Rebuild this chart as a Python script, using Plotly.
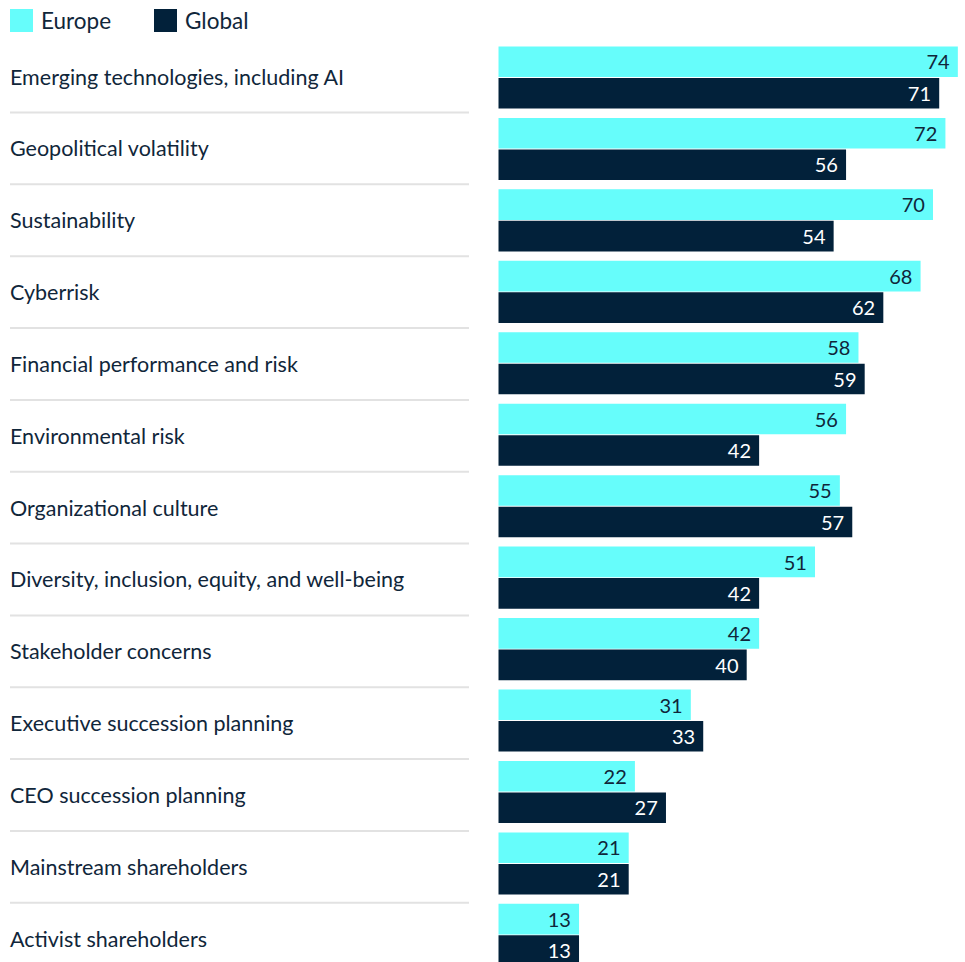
import plotly.graph_objects as go

categories = [
    "Emerging technologies, including AI",
    "Geopolitical volatility",
    "Sustainability",
    "Cyberrisk",
    "Financial performance and risk",
    "Environmental risk",
    "Organizational culture",
    "Diversity, inclusion, equity, and well-being",
    "Stakeholder concerns",
    "Executive succession planning",
    "CEO succession planning",
    "Mainstream shareholders",
    "Activist shareholders",
]
europe = [74, 72, 70, 68, 58, 56, 55, 51, 42, 31, 22, 21, 13]
global_ = [71, 56, 54, 62, 59, 42, 57, 42, 40, 33, 27, 21, 13]
series_names = ["Europe", "Global"]

W, H = 965, 962
EUROPE_C = "#66FDFB"
GLOBAL_C = "#02213A"
TEXT_C = "#10263A"
FONT = "Lato"

fig = go.Figure()
fig.add_trace(go.Bar(
    y=categories, x=europe, orientation="h", name=series_names[0],
    marker=dict(color=EUROPE_C, line=dict(width=0)),
    text=[f"{v}\u00a0" for v in europe], textposition="inside",
    insidetextanchor="end", insidetextfont=dict(color=TEXT_C, size=22, family=FONT),
    showlegend=False,
))
fig.add_trace(go.Bar(
    y=categories, x=global_, orientation="h", name=series_names[1],
    marker=dict(color=GLOBAL_C, line=dict(width=0)),
    text=[f"{v}\u00a0" for v in global_], textposition="inside",
    insidetextanchor="end", insidetextfont=dict(color="white", size=22, family=FONT),
    showlegend=False,
))

x0 = 498.3
px_per_unit = 6.21
top_center = 77.5
pitch = 71.45

shapes = []
annotations = []
n = len(categories)
for i, c in enumerate(categories):
    lab_y = -0.013 + 1.0055 * i
    annotations.append(dict(
        x=8 / W, xref="paper", y=lab_y, yref="y", text=c, showarrow=False,
        xanchor="left", yanchor="middle",
        font=dict(size=21.5, color=TEXT_C, family=FONT),
    ))
    if i < n - 1:
        ly = 0.49 + 1.0055 * i
        shapes.append(dict(type="line", xref="paper", yref="y",
                           x0=10 / W, x1=469 / W, y0=ly, y1=ly,
                           line=dict(color="#E2E2E2", width=2)))

# legend
for name, col, sx in [(series_names[0], EUROPE_C, 10), (series_names[1], GLOBAL_C, 154)]:
    shapes.append(dict(type="rect", xref="paper", yref="paper",
                       x0=sx / W, x1=(sx + 23) / W, y0=1 - 32 / H, y1=1 - 9 / H,
                       fillcolor=col, line=dict(width=0)))
    annotations.append(dict(x=(sx + 29) / W, xref="paper", y=1 - 20.5 / H, yref="paper",
                            text=name, showarrow=False, xanchor="left", yanchor="middle",
                            font=dict(size=22.5, color=TEXT_C, family=FONT)))

fig.update_layout(
    width=W, height=H,
    margin=dict(l=0, r=0, t=0, b=0),
    paper_bgcolor="white", plot_bgcolor="white",
    barmode="group", bargap=0.118, bargroupgap=0.03,
    xaxis=dict(domain=[x0 / W, 1], range=[0, (W - x0) / px_per_unit],
               visible=False, showgrid=False, zeroline=False, fixedrange=True),
    yaxis=dict(type="category", categoryorder="array", categoryarray=categories,
               range=[(H - top_center) / pitch, -top_center / pitch],
               visible=False, showgrid=False, fixedrange=True),
    shapes=shapes, annotations=annotations,
    uniformtext=dict(mode=False),
)

fig.write_html("out.html", config={"displayModeBar": False},
               post_script="document.body.style.margin='0';document.body.style.overflow='hidden';")
